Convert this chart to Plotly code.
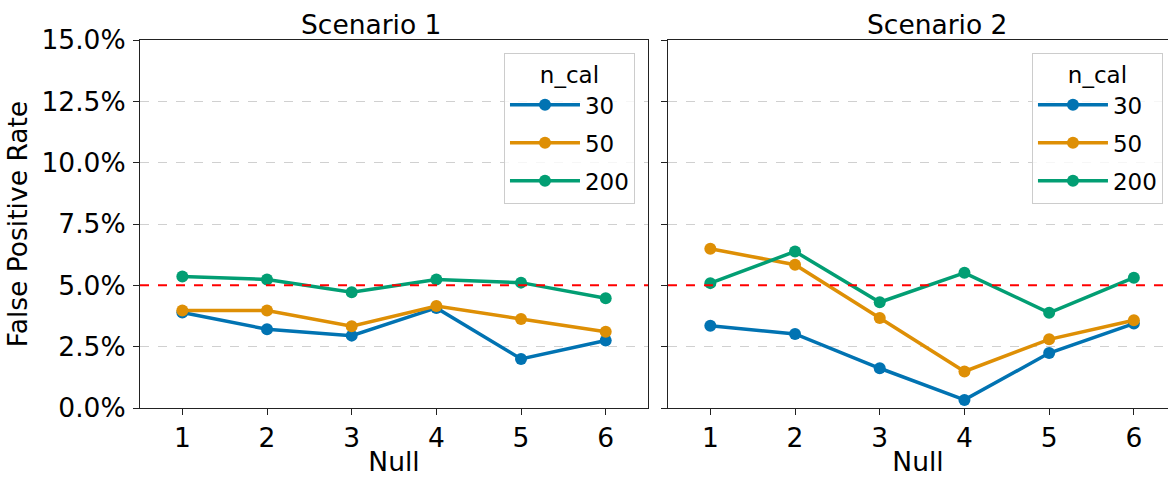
"""False positive rate per null, two scenarios."""

import plotly.graph_objects as go
from plotly.subplots import make_subplots

nulls = [1, 2, 3, 4, 5, 6]
n_cal_levels = ['30', '50', '200']

scenario1 = {
    '30': [0.0389, 0.0321, 0.0295, 0.0408, 0.0200, 0.0275],
    '50': [0.0397, 0.0397, 0.0333, 0.0416, 0.0363, 0.0311],
    '200': [0.0536, 0.0524, 0.0472, 0.0524, 0.0511, 0.0447],
}
scenario2 = {
    '30': [0.0335, 0.0302, 0.0162, 0.0033, 0.0224, 0.0344],
    '50': [0.0649, 0.0584, 0.0367, 0.0149, 0.0280, 0.0358],
    '200': [0.0509, 0.0638, 0.0431, 0.0551, 0.0388, 0.0531],
}
nominal_rate = 0.05
y_ticks = [0, 0.025, 0.05, 0.075, 0.10, 0.125, 0.15]

colors = {'30': '#0173b2', '50': '#de8f05', '200': '#029e73'}
FONT = 'DejaVu Sans'
BIG = 26.5
SMALL = 23

fig = make_subplots(rows=1, cols=2, shared_yaxes=True,
                    subplot_titles=['Scenario 1', 'Scenario 2'])

for col, (data, legend_name) in enumerate(
        [(scenario1, 'legend'), (scenario2, 'legend2')], start=1):
    for level in n_cal_levels:
        fig.add_trace(go.Scatter(
            x=nulls, y=data[level], mode='lines+markers',
            name=level, legend=legend_name,
            legendgroup=f'{legend_name}_{level}',
            line=dict(color=colors[level], width=3.5),
            marker=dict(size=12, color=colors[level]),
        ), row=1, col=col)
    fig.add_hline(y=nominal_rate, line=dict(color='red', width=2, dash='dash'),
                  row=1, col=col)

axis_style = dict(showline=True, linecolor='#222222', linewidth=1.2,
                  ticks='outside', ticklen=6, tickcolor='#222222',
                  tickfont=dict(size=BIG, color='black', family=FONT))

fig.update_xaxes(tickvals=nulls, showgrid=False, zeroline=False, mirror=True,
                 title=dict(text='Null', font=dict(size=BIG, family=FONT,
                                                   color='black'),
                            standoff=0),
                 **axis_style)
# the right panel is clipped by the figure edge in the original
fig.update_xaxes(range=[0.5, 6.5], domain=[0, 0.4942], row=1, col=1)
fig.update_xaxes(range=[0.5, 6.403], domain=[0.5136, 1], row=1, col=2)

fig.update_yaxes(range=[0, 0.15], tickvals=y_ticks, tickformat='.1%',
                 showgrid=True, gridcolor='#d0d0d0', griddash='dash',
                 gridwidth=1, zeroline=False, ticklabelstandoff=2,
                 **axis_style)
fig.update_yaxes(mirror=True,
                 title=dict(text='False Positive Rate',
                            font=dict(size=BIG, family=FONT, color='black'),
                            standoff=6),
                 row=1, col=1)
fig.update_yaxes(showticklabels=False, mirror=False, row=1, col=2)

legend_style = dict(
    title=dict(text='n_cal', side='top center',
               font=dict(size=SMALL, family=FONT, color='black')),
    font=dict(size=SMALL, family=FONT, color='black'),
    bgcolor='rgba(255,255,255,0.8)', bordercolor='#cccccc', borderwidth=1,
    xanchor='right', yanchor='top', itemwidth=70, tracegroupgap=5,
)

fig.update_layout(
    width=1169, height=479,
    plot_bgcolor='white', paper_bgcolor='white',
    font=dict(family=FONT, size=BIG, color='black'),
    margin=dict(l=140, r=1, t=40, b=71),
    legend=dict(x=0.4815, y=0.966, **legend_style),
    legend2=dict(x=0.9951, y=0.966, **legend_style),
)

for ann in fig.layout.annotations:
    ann.font = dict(size=BIG, family=FONT, color='black')
    ann.yshift = -2

fig.write_html("out.html", config={'displayModeBar': False},
               post_script="document.body.style.margin='0';")
